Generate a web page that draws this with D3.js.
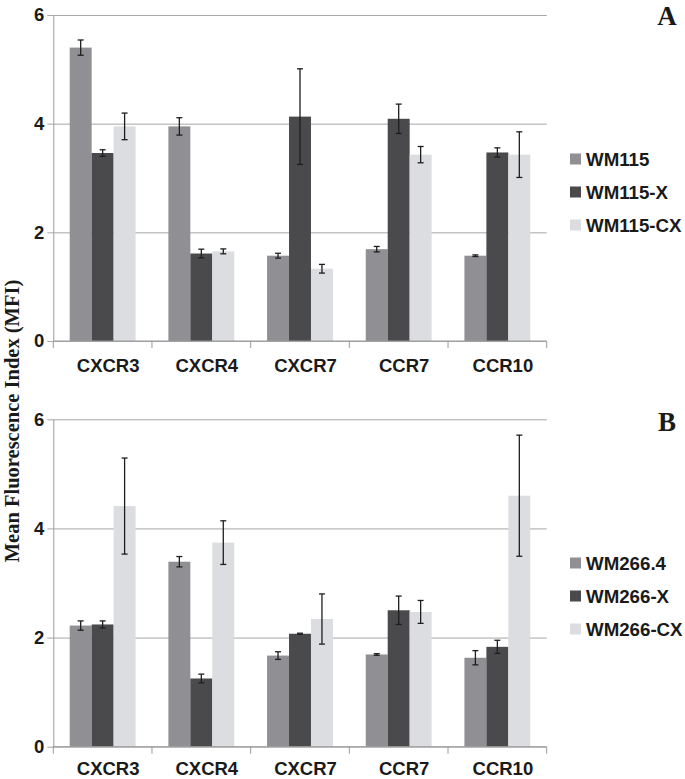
<!DOCTYPE html>
<html>
<head>
<meta charset="utf-8">
<script src="https://cdn.jsdelivr.net/npm/d3@7"></script>
<style>
  html, body { margin: 0; padding: 0; background: #fff; }
  svg { display: block; }
</style>
</head>
<body>
<svg id="chart" width="685" height="779"></svg>
<script>
// ---------- data ----------
const categories = ["CXCR3", "CXCR4", "CXCR7", "CCR7", "CCR10"];
const yTicks = [0, 2, 4, 6];

const seriesA = ["WM115", "WM115-X", "WM115-CX"];
const wm115     = [5.40, 3.95, 1.57, 1.69, 1.57];
const wm115X    = [3.46, 1.61, 4.13, 4.09, 3.47];
const wm115CX   = [3.95, 1.65, 1.33, 3.43, 3.43];
const wm115Err   = [0.14, 0.16, 0.045, 0.05, 0.015];
const wm115XErr  = [0.06, 0.08, 0.88, 0.27, 0.085];
const wm115CXErr = [0.245, 0.045, 0.08, 0.15, 0.42];

const seriesB = ["WM266.4", "WM266-X", "WM266-CX"];
const wm266     = [2.22, 3.39, 1.67, 1.69, 1.63];
const wm266X    = [2.24, 1.25, 2.07, 2.50, 1.83];
const wm266CX   = [4.41, 3.74, 2.34, 2.47, 4.60];
const wm266Err   = [0.085, 0.095, 0.07, 0.015, 0.13];
const wm266XErr  = [0.065, 0.08, 0.01, 0.26, 0.12];
const wm266CXErr = [0.88, 0.40, 0.46, 0.21, 1.11];

const colors = ["#909094", "#4a4a4c", "#dcdde0"];

// ---------- drawing ----------
const svg = d3.select("#chart");
const sans = "'Liberation Sans', Arial, Helvetica, sans-serif";
const serif = "'Liberation Serif', 'Times New Roman', serif";

const xLeft = 53.3, xRight = 546.7;
const x0 = d3.scaleBand().domain(categories).range([xLeft, xRight]).padding(0);
const catW = x0.bandwidth();
const groupPad = 16.4;

function panel(opts) {
  const { yBottom, yTop, series, values, errors, letter, letterY, legendY, labelDy } = opts;
  const y = d3.scaleLinear().domain([0, 6]).range([yBottom, yTop]);
  const x1 = d3.scaleBand().domain(series).range([groupPad, catW - groupPad]).padding(0);
  const g = svg.append("g");

  // gridlines + y tick labels
  const yAxis = d3.axisLeft(y).tickValues(yTicks).tickFormat(d3.format("d"))
    .tickSizeInner(0).tickSizeOuter(0).tickPadding(9);
  const ya = g.append("g").attr("transform", `translate(${xLeft},0)`).call(yAxis);
  ya.select(".domain").attr("stroke", "#9a9a9a").attr("stroke-width", 1);
  ya.selectAll(".tick line")
    .attr("x1", -6).attr("x2", xRight - xLeft)
    .attr("stroke", "#a6a6a6").attr("stroke-width", 1);
  ya.selectAll(".tick text")
    .attr("font-family", sans).attr("font-weight", "bold")
    .attr("font-size", "18.5px").attr("fill", "#1a1a1a");

  // bars
  const data = [];
  series.forEach((s, si) => {
    categories.forEach((c, ci) => {
      data.push({ s, si, c, v: values[si][ci], e: errors[si][ci] });
    });
  });
  g.selectAll("rect.bar").data(data).enter().append("rect")
    .attr("class", "bar")
    .attr("x", d => x0(d.c) + x1(d.s))
    .attr("width", x1.bandwidth())
    .attr("y", d => y(d.v))
    .attr("height", d => y(0) - y(d.v))
    .attr("fill", d => colors[d.si]);

  // error bars
  const eb = g.selectAll("g.err").data(data).enter().append("g").attr("class", "err");
  const cx = d => x0(d.c) + x1(d.s) + x1.bandwidth() / 2;
  eb.append("line")
    .attr("x1", cx).attr("x2", cx)
    .attr("y1", d => y(d.v + d.e)).attr("y2", d => y(d.v - d.e));
  eb.append("line")
    .attr("x1", d => cx(d) - 3).attr("x2", d => cx(d) + 3)
    .attr("y1", d => y(d.v + d.e)).attr("y2", d => y(d.v + d.e));
  eb.append("line")
    .attr("x1", d => cx(d) - 3).attr("x2", d => cx(d) + 3)
    .attr("y1", d => y(d.v - d.e)).attr("y2", d => y(d.v - d.e));
  eb.selectAll("line").attr("stroke", "#1e1e1e").attr("stroke-width", 1.3);

  // x axis
  const xa = g.append("g").attr("transform", `translate(0,${yBottom})`);
  xa.append("line").attr("x1", xLeft).attr("x2", xRight).attr("y1", 0).attr("y2", 0)
    .attr("stroke", "#9a9a9a").attr("stroke-width", 1);
  const bounds = categories.map(c => x0(c)).concat([xRight]);
  xa.selectAll("line.tk").data(bounds).enter().append("line").attr("class", "tk")
    .attr("x1", d => d).attr("x2", d => d).attr("y1", 0).attr("y2", 7)
    .attr("stroke", "#9a9a9a").attr("stroke-width", 1);
  xa.selectAll("text").data(categories).enter().append("text")
    .attr("x", d => x0(d) + catW / 2 + 5.5).attr("y", labelDy)
    .attr("text-anchor", "middle")
    .attr("font-family", sans).attr("font-weight", "bold")
    .attr("font-size", "18.5px").attr("fill", "#1a1a1a")
    .text(d => d);

  // panel letter
  g.append("text").attr("x", 667).attr("y", letterY)
    .attr("text-anchor", "middle")
    .attr("font-family", serif).attr("font-weight", "bold")
    .attr("font-size", "27px").attr("fill", "#1a1a1a")
    .text(letter);

  // legend
  const lg = g.append("g");
  series.forEach((s, i) => {
    const cy = legendY + i * 33;
    lg.append("rect").attr("x", 570).attr("y", cy - 5.5).attr("width", 11).attr("height", 11)
      .attr("fill", colors[i]);
    lg.append("text").attr("x", 586).attr("y", cy).attr("dy", "0.36em")
      .attr("font-family", sans).attr("font-weight", "bold")
      .attr("font-size", "18.7px").attr("fill", "#1a1a1a")
      .text(s);
  });
}

panel({
  yBottom: 341, yTop: 15,
  series: seriesA,
  values: [wm115, wm115X, wm115CX],
  errors: [wm115Err, wm115XErr, wm115CXErr],
  letter: "A", letterY: 25, legendY: 159, labelDy: 30.5
});

panel({
  yBottom: 746.7, yTop: 419.3,
  series: seriesB,
  values: [wm266, wm266X, wm266CX],
  errors: [wm266Err, wm266XErr, wm266CXErr],
  letter: "B", letterY: 431, legendY: 563, labelDy: 28.3
});

// shared y-axis title
svg.append("text")
  .attr("transform", "translate(19,421) rotate(-90)")
  .attr("text-anchor", "middle")
  .attr("font-family", serif).attr("font-weight", "bold")
  .attr("font-size", "20.5px").attr("fill", "#1a1a1a")
  .text("Mean Fluorescence Index (MFI)");
</script>
</body>
</html>
